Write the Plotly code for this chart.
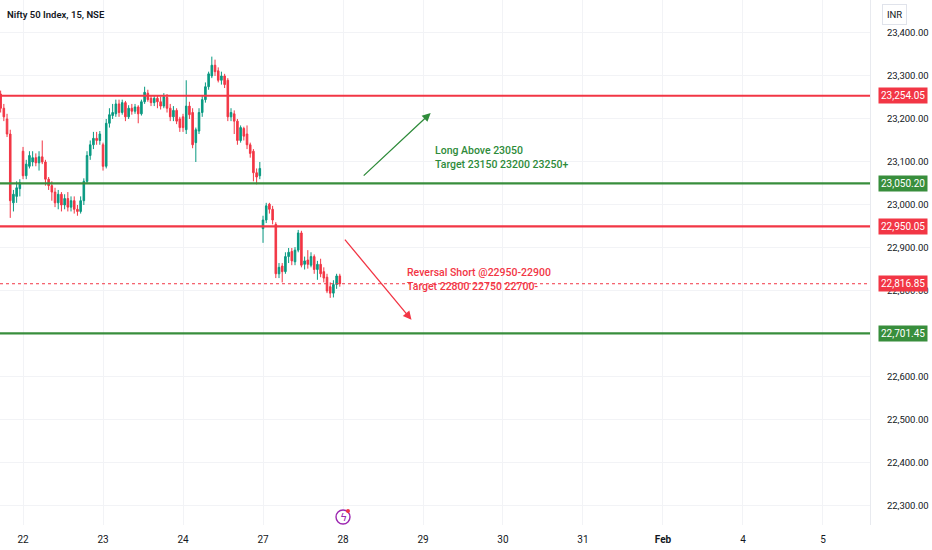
import plotly.graph_objects as go

# ---------------- data ----------------
day_labels = ["22", "23", "24", "27", "28", "29", "30", "31", "<b>Feb</b>", "4", "5"]
bars_before_first_label = 7   # last bars of 21 Jan
bars_per_day = 25

opens = [23258, 23225, 23200, 23165, 23005, 23020, 23038,
         23125, 23068, 23090, 23100, 23110, 23098, 23112, 23100, 23060, 23045, 23030, 23005, 23025,
         23000, 23015, 22995, 23010, 22990, 22985, 23010, 23055, 23115, 23140, 23155, 23150,
         23140, 23090, 23190, 23208, 23212, 23235, 23215, 23238, 23205, 23225, 23218, 23228, 23212,
         23240, 23260, 23248, 23238, 23248, 23240, 23230, 23250, 23225, 23205, 23220, 23200,
         23205, 23175, 23230, 23215, 23145, 23172, 23215, 23245, 23275, 23300, 23325, 23312, 23290,
         23300, 23290, 23205, 23212, 23195, 23150, 23178, 23165, 23140, 23125, 23075, 23068,
         22945, 22965, 23002, 22990, 22955, 22840, 22858, 22845, 22880, 22892, 22868, 22895, 22935,
         22862, 22872, 22860, 22880, 22850, 22862, 22845, 22832, 22810, 22795, 22815, 22835]
highs = [23266, 23235, 23212, 23175, 23035, 23055, 23060,
         23135, 23105, 23125, 23125, 23120, 23125, 23150, 23105, 23065, 23055, 23040, 23035, 23030,
         23025, 23030, 23020, 23020, 23000, 23020, 23062, 23125, 23150, 23170, 23170, 23172,
         23145, 23200, 23225, 23235, 23245, 23245, 23245, 23242, 23232, 23235, 23235, 23232, 23245,
         23275, 23268, 23255, 23255, 23255, 23252, 23260, 23258, 23235, 23230, 23225, 23205,
         23212, 23290, 23240, 23225, 23180, 23225, 23255, 23285, 23310, 23345, 23338, 23320, 23310,
         23305, 23295, 23225, 23220, 23200, 23185, 23182, 23185, 23145, 23130, 23085, 23100,
         22975, 23005, 23005, 22998, 22960, 22865, 22865, 22890, 22900, 22900, 22902, 22942, 22940,
         22880, 22895, 22890, 22885, 22870, 22875, 22855, 22840, 22820, 22825, 22840, 22840]
lows = [23215, 23195, 23158, 22970, 22985, 23005, 23020,
        23060, 23060, 23085, 23090, 23090, 23080, 23095, 23045, 23035, 23010, 22995, 22990, 22985,
        22990, 22985, 22985, 22980, 22975, 22980, 23000, 23050, 23105, 23130, 23140, 23140,
        23080, 23085, 23180, 23200, 23205, 23205, 23210, 23195, 23200, 23210, 23212, 23190, 23208,
        23235, 23240, 23230, 23230, 23225, 23222, 23225, 23215, 23195, 23195, 23188, 23170,
        23170, 23165, 23200, 23132, 23100, 23165, 23205, 23238, 23268, 23295, 23300, 23285, 23280,
        23272, 23195, 23195, 23165, 23140, 23145, 23150, 23130, 23110, 23055, 23048, 23060,
        22912, 22958, 22980, 22955, 22830, 22830, 22820, 22840, 22865, 22860, 22860, 22890, 22855,
        22850, 22852, 22855, 22840, 22826, 22832, 22820, 22795, 22784, 22785, 22805, 22810]
closes = [23225, 23205, 23165, 23010, 23025, 23040, 23052,
          23068, 23095, 23115, 23110, 23098, 23112, 23100, 23060, 23045, 23030, 23005, 23025, 23000,
          23015, 22995, 23010, 22990, 22985, 23010, 23055, 23115, 23140, 23155, 23150, 23165,
          23090, 23190, 23210, 23215, 23235, 23215, 23238, 23205, 23225, 23218, 23228, 23212, 23240,
          23262, 23245, 23238, 23248, 23240, 23230, 23252, 23225, 23205, 23220, 23195, 23180,
          23180, 23230, 23210, 23140, 23175, 23215, 23245, 23275, 23305, 23325, 23310, 23290, 23300,
          23280, 23205, 23215, 23195, 23150, 23180, 23160, 23140, 23120, 23075, 23065, 23085,
          22965, 22998, 22990, 22965, 22840, 22855, 22845, 22880, 22890, 22870, 22895, 22935, 22860,
          22870, 22862, 22880, 22850, 22862, 22840, 22830, 22800, 22795, 22815, 22835, 22816.85]

level_values = [23254.05, 23050.20, 22950.05, 22701.45]
level_colors = ["#F23645", "#388E3C", "#F23645", "#388E3C"]
last_price = 22816.85

# 22,700 is hidden behind the 22,701.45 level tag in the reference
y_ticks = [22300, 22400, 22500, 22600, 22800, 22900, 23000, 23100, 23200, 23300, 23400]

long_text = "Long Above 23050<br>Target 23150 23200 23250+"
short_text = "Reversal Short @22950-22900<br>Target 22800 22750 22700-"

# annotation anchors (bar index, price)
long_arrow = dict(tail=(113, 23065), head=(134.4, 23214), text=(135, 23111))
short_arrow = dict(tail=(107.2, 22923), head=(128.4, 22733), text=(126.5, 22826))

# ---------------- figure ----------------
x_idx = list(range(len(closes)))
tick_vals = [bars_before_first_label + k * bars_per_day for k in range(len(day_labels))]

UP = "#089981"
DOWN = "#F23645"
GREEN_TXT = "#2E8B3A"
PURPLE = "#9C27B0"

fig = go.Figure()
fig.add_trace(go.Candlestick(
    x=x_idx, open=opens, high=highs, low=lows, close=closes,
    increasing=dict(line=dict(color=UP, width=1), fillcolor=UP),
    decreasing=dict(line=dict(color=DOWN, width=1), fillcolor=DOWN),
    whiskerwidth=0, showlegend=False, hoverinfo="skip",
))

shapes = []
annotations = []
for v, c in zip(level_values, level_colors):
    shapes.append(dict(type="line", xref="paper", x0=0, x1=1, yref="y", y0=v, y1=v,
                       line=dict(color=c, width=2.2), layer="above"))
    annotations.append(dict(xref="paper", x=1, xanchor="left", xshift=8, yref="y", y=v,
                            text=f"{v:,.2f}", showarrow=False, bgcolor=c,
                            font=dict(color="white", size=10, family="Roboto"),
                            borderpad=2))
shapes.append(dict(type="line", xref="paper", x0=0, x1=1, yref="y", y0=last_price, y1=last_price,
                   line=dict(color=DOWN, width=1, dash="dot"), layer="above"))
annotations.append(dict(xref="paper", x=1, xanchor="left", xshift=8, yref="y", y=last_price,
                        text=f"{last_price:,.2f}", showarrow=False, bgcolor=DOWN,
                        font=dict(color="white", size=10, family="Roboto"), borderpad=2))

# arrows
for arr, col in ((long_arrow, GREEN_TXT), (short_arrow, DOWN)):
    annotations.append(dict(x=arr["head"][0], y=arr["head"][1], ax=arr["tail"][0], ay=arr["tail"][1],
                            xref="x", yref="y", axref="x", ayref="y", text="", showarrow=True,
                            arrowhead=2, arrowsize=1.3, arrowwidth=1.3, arrowcolor=col))
annotations.append(dict(x=long_arrow["text"][0], y=long_arrow["text"][1], xref="x", yref="y",
                        text=long_text, showarrow=False, xanchor="left", align="left",
                        font=dict(color=GREEN_TXT, size=10.5, family="Roboto", weight=500)))
annotations.append(dict(x=short_arrow["text"][0], y=short_arrow["text"][1], xref="x", yref="y",
                        text=short_text, showarrow=False, xanchor="left", align="left",
                        font=dict(color=DOWN, size=10.5, family="Roboto", weight=500)))

# header texts
annotations.append(dict(xref="paper", yref="paper", x=0, y=1, xanchor="left", yanchor="top",
                        xshift=5, yshift=-7, text="Nifty 50 Index, 15, NSE", showarrow=False,
                        font=dict(color="#131722", size=9.5, family="Roboto", weight=600)))
annotations.append(dict(xref="paper", yref="paper", x=1, y=1, xanchor="left", yanchor="top",
                        xshift=12, yshift=-4, text="INR", showarrow=False,
                        bordercolor="#E0E3EB", borderwidth=1, borderpad=4, bgcolor="white",
                        font=dict(color="#131722", size=9.5, family="Roboto")))

# event icon near 28 (circle with lightning and small red dot)
shapes.append(dict(type="circle", xref="x", xsizemode="pixel", xanchor=tick_vals[4], x0=-7, x1=7,
                   yref="paper", ysizemode="pixel", yanchor=0, y0=1, y1=15,
                   line=dict(color=PURPLE, width=1.4), fillcolor="white", layer="above"))
shapes.append(dict(type="circle", xref="x", xsizemode="pixel", xanchor=tick_vals[4], x0=3, x1=7,
                   yref="paper", ysizemode="pixel", yanchor=0, y0=12, y1=16,
                   line=dict(color="#F23645", width=0), fillcolor="#F23645", layer="above"))
annotations.append(dict(x=tick_vals[4], xref="x", yref="paper", y=0, yshift=8, yanchor="middle",
                        text="ϟ", showarrow=False,
                        font=dict(color=PURPLE, size=11, family="DejaVu Sans")))

fig.update_layout(
    width=932, height=550,
    margin=dict(l=0, r=62, t=0, b=25),
    paper_bgcolor="white", plot_bgcolor="white",
    shapes=shapes, annotations=annotations,
    font=dict(family="Roboto", color="#131722"),
    xaxis=dict(range=[-0.2, 271.7], tickvals=tick_vals, ticktext=day_labels,
               showgrid=True, gridcolor="#F2F3F6", zeroline=False, showline=False,
               rangeslider=dict(visible=False), tickfont=dict(size=10, color="#131722"),
               ticks="", ticklabelstandoff=7, fixedrange=True),
    yaxis=dict(side="right", range=[22255.8, 23476.7], tickvals=y_ticks, tickformat=",.2f",
               showgrid=True, gridcolor="#F2F3F6", zeroline=False, showline=True,
               linecolor="#E8EAEF", tickfont=dict(size=9.5, color="#131722"),
               ticklabelstandoff=14, ticks=""),
)

fig.write_html("out.html", config={"displayModeBar": False},
               post_script="document.body.style.margin='0';document.body.style.overflow='hidden';")
